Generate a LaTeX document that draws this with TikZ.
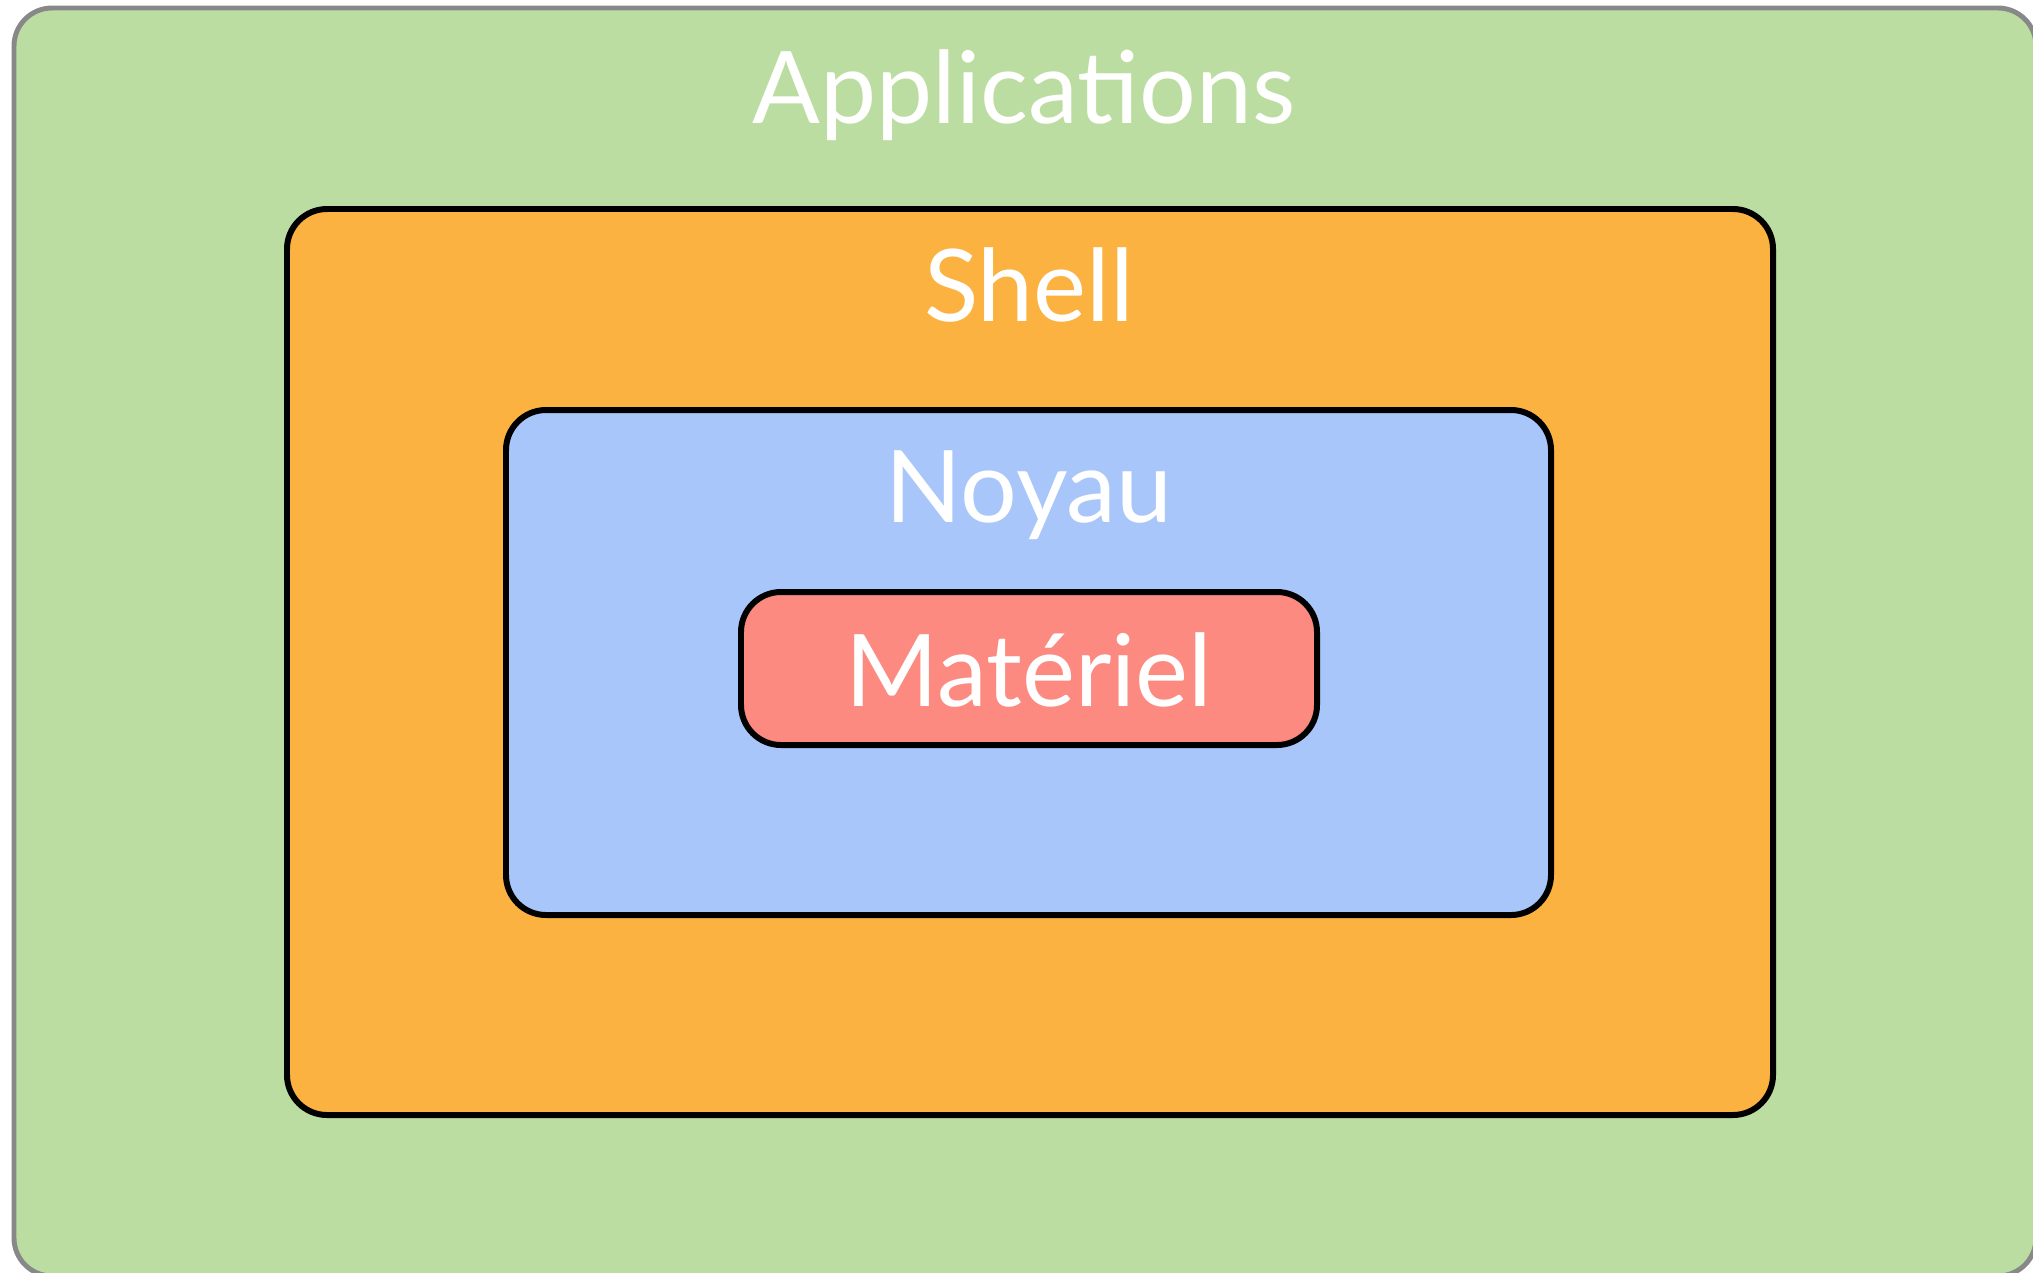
\documentclass[tikz,border=0pt]{standalone}
\usepackage{fontspec}
\setmainfont{Lato}
\usepackage{xcolor}

\definecolor{appsgreen}{RGB}{188,221,161}
\definecolor{shellorange}{RGB}{252,178,64}
\definecolor{noyaublue}{RGB}{168,198,250}
\definecolor{materielred}{RGB}{253,138,128}
\definecolor{appsborder}{RGB}{136,136,136}

\begin{document}
\begin{tikzpicture}[x=0.01cm, y=-0.01cm,
		layer/.style = {draw=black, line width=1.7pt, rounded corners=0.4cm},
		layertext/.style = {text=white, font=\fontsize{28.5}{34}\selectfont, anchor=base, inner sep=0pt}]
			\useasboundingbox (0,0) rectangle (2033,1272);
			\clip (0,0) rectangle (2033,1272);
			\filldraw[layer, draw=appsborder, line width=1.4pt, rounded corners=0.38cm, fill=appsgreen] (14,8) rectangle (2036,1276);
			\filldraw[layer, fill=shellorange] (287,209) rectangle (1773,1115);
			\filldraw[layer, fill=noyaublue] (506,410) rectangle (1551,915);
			\filldraw[layer, fill=materielred] (741,592) rectangle (1317,745);
			\node[layertext] (apps) at (1024,123) {Applications};
			\node[layertext] (shell) at (1029,321) {Shell};
			\node[layertext] (noyau) at (1029,522) {Noyau};
			\node[layertext] (materiel) at (1029,706) {Matériel};
		\end{tikzpicture}
\end{document}
